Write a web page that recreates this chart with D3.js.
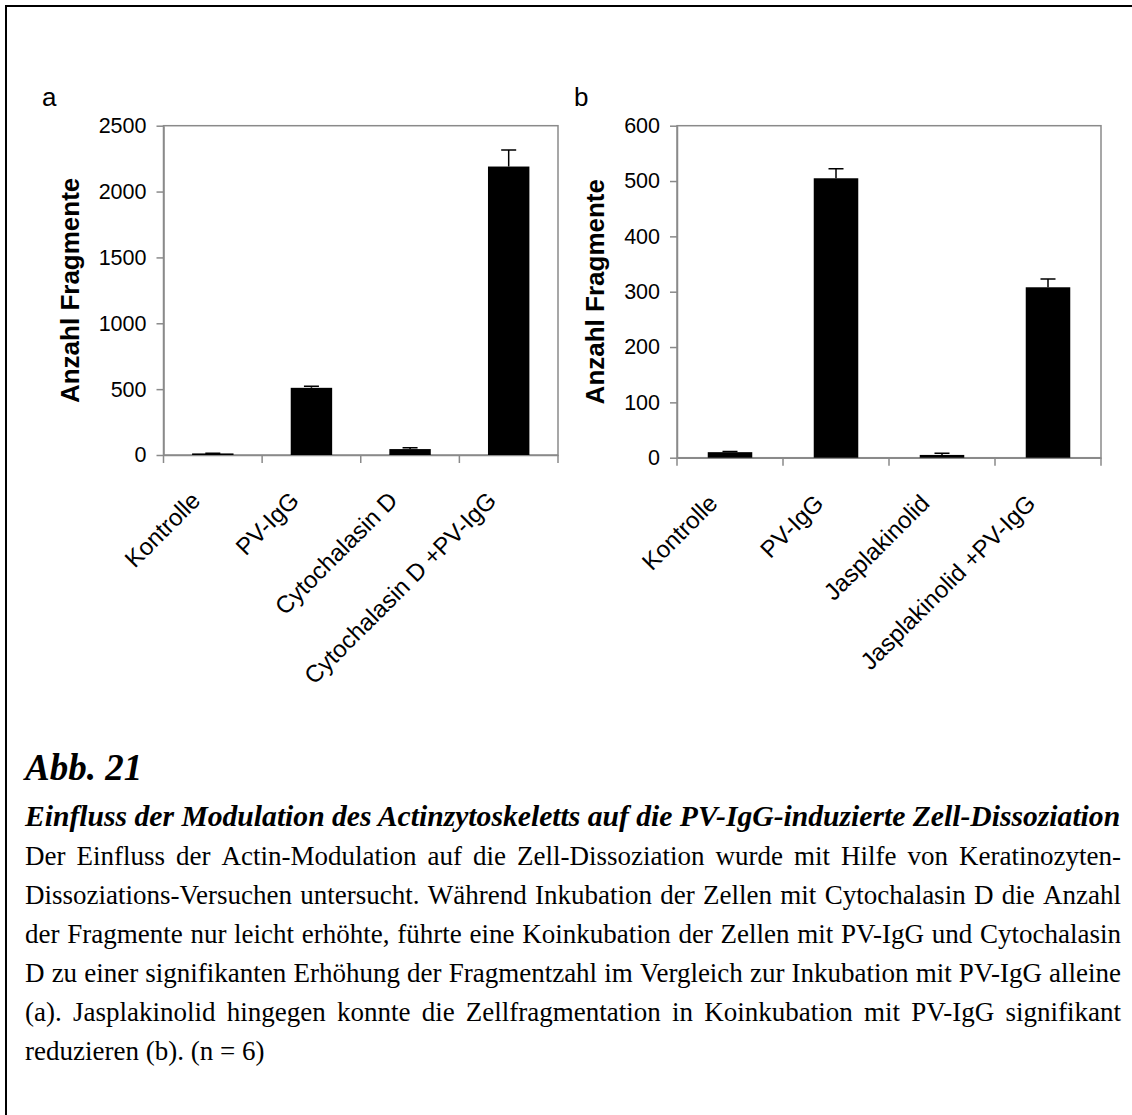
<!DOCTYPE html>
<html>
<head>
<meta charset="utf-8">
<script src="https://cdn.jsdelivr.net/npm/d3@7"></script>
<style>
  body { margin: 0; background: #fff; }
  svg { display: block; }
</style>
</head>
<body>
<div id="chart"></div>
<script>
// panel a
const categoriesA = ['Kontrolle', 'PV-IgG', 'Cytochalasin D', 'Cytochalasin D +PV-IgG']
const valuesA = [12, 510, 45, 2190]
const errorsA = [2, 11, 10, 125]
const ticksA = [0, 500, 1000, 1500, 2000, 2500]

// panel b
const categoriesB = ['Kontrolle', 'PV-IgG', 'Jasplakinolid', 'Jasplakinolid +PV-IgG']
const valuesB = [10, 505, 5, 308]
const errorsB = [1, 17, 3, 15]
const ticksB = [0, 100, 200, 300, 400, 500, 600]

const yLabel = 'Anzahl Fragmente'
const figLabel = 'Abb. 21'
const captionTitle = 'Einfluss der Modulation des Actinzytoskeletts auf die PV-IgG-induzierte Zell-Dissoziation'
const captionLines = [
  'Der Einfluss der Actin-Modulation auf die Zell-Dissoziation wurde mit Hilfe von Keratinozyten-',
  'Dissoziations-Versuchen untersucht. Während Inkubation der Zellen mit Cytochalasin D die Anzahl',
  'der Fragmente nur leicht erhöhte, führte eine Koinkubation der Zellen mit PV-IgG und Cytochalasin',
  'D zu einer signifikanten Erhöhung der Fragmentzahl im Vergleich zur Inkubation mit PV-IgG alleine',
  '(a). Jasplakinolid hingegen konnte die Zellfragmentation in Koinkubation mit PV-IgG signifikant',
  'reduzieren (b). (n = 6)'
]

const W = 1132, H = 1115
const grey = '#8a8a8a'
const sans = '"Liberation Sans", Arial, sans-serif'
const serif = '"Liberation Serif", "Times New Roman", serif'

const svg = d3.select('#chart').append('svg')
  .attr('width', W)
  .attr('height', H)

svg.append('rect').attr('width', W).attr('height', H).attr('fill', '#fff')

// page frame (left + top only)
svg.append('path')
  .attr('d', `M6,${H} L6,6 L${W},6`)
  .attr('fill', 'none')
  .attr('stroke', '#000')
  .attr('stroke-width', 2)

function drawPanel(o) {
  const g = svg.append('g')

  const x = d3.scaleBand()
    .domain(o.cats)
    .range([o.x0, o.x1])
    .paddingInner(0.58)
    .paddingOuter(0.29)

  const y = d3.scaleLinear()
    .domain([0, o.max])
    .range([o.y0, o.y1])

  // plot area border
  g.append('rect')
    .attr('x', o.x0).attr('y', o.y1)
    .attr('width', o.x1 - o.x0).attr('height', o.y0 - o.y1)
    .attr('fill', 'none')
    .attr('stroke', grey)
    .attr('stroke-width', 1.5)

  /* Y axis */
  const yAxis = g.append('g')
    .attr('transform', `translate(${o.x0},0)`)
    .call(d3.axisLeft(y).tickValues(o.ticks).tickFormat(d3.format('d'))
      .tickSize(7).tickPadding(10).tickSizeOuter(0))
  yAxis.select('.domain').attr('stroke', grey).attr('stroke-width', 1.5)
  yAxis.selectAll('.tick line').attr('stroke', grey).attr('stroke-width', 1.5)
  yAxis.selectAll('text')
    .attr('font-family', sans)
    .attr('font-size', 21.5)
    .attr('fill', '#000')

  /* X axis */
  const xAxis = g.append('g')
    .attr('transform', `translate(0,${o.y0})`)
    .call(d3.axisBottom(x).tickSize(0).tickSizeOuter(0))
  xAxis.select('.domain').attr('stroke', grey).attr('stroke-width', 1.5)
  xAxis.selectAll('text')
    .attr('x', 0).attr('y', 0).attr('dy', 0)
    .attr('font-family', sans)
    .attr('font-size', 24)
    .attr('fill', '#000')
    .style('text-anchor', 'end')
    .attr('transform', 'translate(-11,47) rotate(-45)')

  // category boundary ticks
  g.selectAll('.sep')
    .data(d3.range(o.cats.length + 1))
    .enter()
    .append('line')
    .attr('x1', i => o.x0 + i * x.step())
    .attr('x2', i => o.x0 + i * x.step())
    .attr('y1', o.y0)
    .attr('y2', o.y0 + 8)
    .attr('stroke', grey)
    .attr('stroke-width', 1.5)

  const data = o.cats.map((c, i) => ({ c, v: o.vals[i], e: o.errs[i] }))

  // error bars (upper whisker only)
  const cap = 15
  g.selectAll('.err')
    .data(data)
    .enter()
    .append('path')
    .attr('d', d => {
      const cx = x(d.c) + x.bandwidth() / 2
      return `M${cx},${y(d.v)} L${cx},${y(d.v + d.e)} M${cx - cap / 2},${y(d.v + d.e)} L${cx + cap / 2},${y(d.v + d.e)}`
    })
    .attr('stroke', '#000')
    .attr('stroke-width', 1.5)
    .attr('fill', 'none')

  g.selectAll('.bar')
    .data(data)
    .enter()
    .append('rect')
    .attr('x', d => x(d.c))
    .attr('y', d => y(d.v))
    .attr('width', x.bandwidth())
    .attr('height', d => y(0) - y(d.v))
    .attr('fill', '#000')

  // Y label
  g.append('text')
    .attr('transform', `translate(${o.labelX},${(o.y0 + o.y1) / 2}) rotate(-90)`)
    .style('text-anchor', 'middle')
    .attr('font-family', sans)
    .attr('font-weight', 'bold')
    .attr('font-size', 26)
    .attr('fill', '#000')
    .text(yLabel)

  // panel letter
  g.append('text')
    .attr('x', o.letterX)
    .attr('y', 106)
    .attr('font-family', sans)
    .attr('font-size', 26)
    .attr('fill', '#000')
    .text(o.letter)
}

drawPanel({
  cats: categoriesA, vals: valuesA, errs: errorsA, ticks: ticksA, max: 2500,
  x0: 163.5, x1: 558, y0: 455, y1: 125.7, labelX: 79, letterX: 42, letter: 'a'
})

drawPanel({
  cats: categoriesB, vals: valuesB, errs: errorsB, ticks: ticksB, max: 600,
  x0: 677, x1: 1101, y0: 457.7, y1: 125.7, labelX: 604, letterX: 574, letter: 'b'
})

/* caption */
const capLeft = 25, capRight = 1121
const bodySize = 27
const lineGap = 39
const firstBase = 865

svg.append('text')
  .attr('x', capLeft)
  .attr('y', firstBase - 39 - 46)
  .attr('font-family', serif)
  .attr('font-style', 'italic')
  .attr('font-weight', 'bold')
  .attr('font-size', 37)
  .attr('fill', '#000')
  .text(figLabel)

// title, sized to fill the text width
const title = svg.append('text')
  .attr('x', capLeft)
  .attr('y', firstBase - 39)
  .attr('font-family', serif)
  .attr('font-style', 'italic')
  .attr('font-weight', 'bold')
  .attr('font-size', 27)
  .attr('fill', '#000')
  .text(captionTitle)
const tw = title.node().getComputedTextLength()
title.attr('font-size', 27 * (capRight - capLeft) / tw)

// justified body lines
captionLines.forEach((line, li) => {
  const words = line.split(' ')
  const yy = firstBase + li * lineGap
  const nodes = words.map(w => svg.append('text')
    .attr('y', yy)
    .attr('font-family', serif)
    .attr('font-size', bodySize)
    .attr('fill', '#000')
    .text(w))
  const widths = nodes.map(n => n.node().getComputedTextLength())
  const total = d3.sum(widths)
  const last = li === captionLines.length - 1
  const gap = last ? bodySize * 0.25 : (capRight - capLeft - total) / (words.length - 1)
  let cx = capLeft
  nodes.forEach((n, i) => {
    n.attr('x', cx)
    cx += widths[i] + gap
  })
})
</script>
</body>
</html>
